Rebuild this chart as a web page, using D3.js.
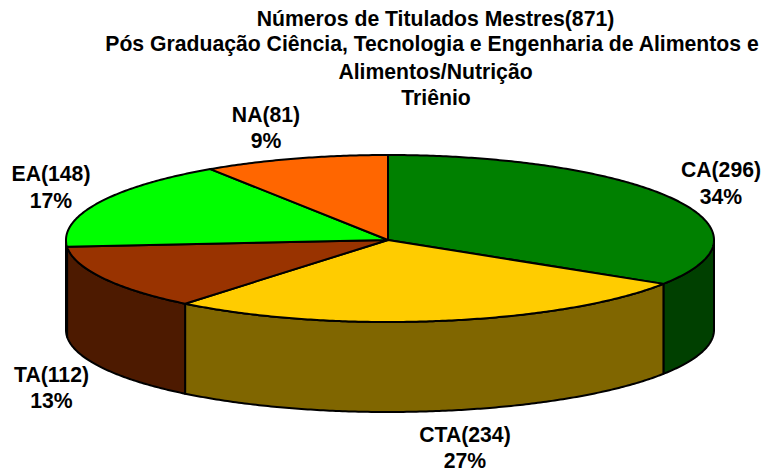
<!DOCTYPE html>
<html><head><meta charset="utf-8">
<script src="https://cdn.jsdelivr.net/npm/d3@7"></script>
<style>html,body{margin:0;padding:0;background:#fff}svg{display:block}text{font-family:"Liberation Sans",Arial,sans-serif;font-weight:bold;fill:#000}</style>
</head><body><svg id="c" width="767" height="473"></svg>
<script>
const categories = ["CA","CTA","TA","EA","NA"];
const values = [296,234,112,148,81];
const percents = ["34%","27%","13%","17%","9%"];
const topColors = ["#008000","#FFCC00","#993300","#00FF00","#FF6600"];
const sideColors = ["#004000","#806600","#4D1A00","#008000","#803300"];
const titleLines = ["Números de Titulados Mestres(871)","Pós Graduação Ciência, Tecnologia e Engenharia de Alimentos e","Alimentos/Nutrição","Triênio"];
const titleX = [435.5,432,435.5,436];
const titleY = [26,51,79,105];
const labelPos = [[721,177],[465,442],[51.5,382],[51,181],[266,122]];
const pctDy = [27,26,26,27,26];

const svg = d3.select("#c");
const cx=388, cy=240, depth=90;
const px = d3.scaleLinear().domain([-1,0,1]).range([66,cx,714]);
const py = d3.scaleLinear().domain([-1,0,1]).range([155,cy,322]);
const pie = d3.pie().sort(null).value(d=>d)(values);
const pt = (a,dz=0)=>[px(Math.sin(a)),py(-Math.cos(a))+dz];
const arcPts=(a0,a1,dz=0)=>{const n=Math.max(2,Math.ceil(Math.abs(a1-a0)/0.01));return d3.range(n+1).map(i=>pt(a0+(a1-a0)*i/n,dz));};
const line=d3.line();
const H=Math.PI/2, W=3*Math.PI/2;

pie.forEach((s,i)=>{
  const a0=Math.max(s.startAngle,H), a1=Math.min(s.endAngle,W);
  if(a1<=a0) return;
  const pts=arcPts(a0,a1).concat(arcPts(a1,a0,depth));
  svg.append("path").attr("d",line(pts)+"Z").attr("fill",sideColors[i]).attr("stroke","#000").attr("stroke-width",2).attr("stroke-linejoin","round");
});
pie.forEach((s,i)=>{
  const pts=[[cx,cy]].concat(arcPts(s.startAngle,s.endAngle));
  svg.append("path").attr("d",line(pts)+"Z").attr("fill",topColors[i]).attr("stroke","#000").attr("stroke-width",2).attr("stroke-linejoin","round");
});
svg.selectAll("text.t").data(titleLines).join("text").attr("class","t")
  .attr("x",(d,i)=>titleX[i]).attr("y",(d,i)=>titleY[i]).attr("text-anchor","middle").attr("font-size",21.2).text(d=>d);
categories.forEach((c,i)=>{
  const [x,y]=labelPos[i];
  svg.append("text").attr("x",x).attr("y",y).attr("text-anchor","middle").attr("font-size",21.2).text(`${c}(${values[i]})`);
  svg.append("text").attr("x",x).attr("y",y+pctDy[i]).attr("text-anchor","middle").attr("font-size",21.2).text(percents[i]);
});
</script></body></html>
